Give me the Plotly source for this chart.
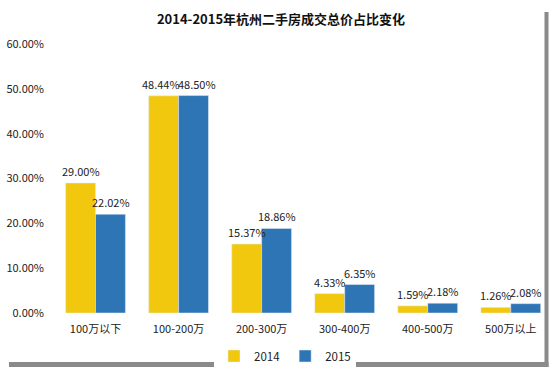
import plotly.graph_objects as go

categories = ["100万以下", "100-200万", "200-300万", "300-400万", "400-500万", "500万以上"]
values_2014 = [29.00, 48.44, 15.37, 4.33, 1.59, 1.26]
values_2015 = [22.02, 48.50, 18.86, 6.35, 2.18, 2.08]
y_ticks = [0, 10, 20, 30, 40, 50, 60]
y_tick_labels = ["0.00%", "10.00%", "20.00%", "30.00%", "40.00%", "50.00%", "60.00%"]

FONT = "Noto Sans CJK SC"

# plot area geometry (pixels)
L, R, T, B = 54, 544, 44, 313
PW, PH = R - L, B - T


def px(x):
    return (x - L) / PW


def py(y):
    return (B - y) / PH


fig = go.Figure()
fig.add_trace(go.Bar(name="2014", x=categories, y=values_2014, marker_color="#F2C80F"))
fig.add_trace(go.Bar(name="2015", x=categories, y=values_2015, marker_color="#2E75B6"))

# value labels above each bar (offset by half a bar width of the group)
annotations = []
for i, cat in enumerate(categories):
    spread = 3 if abs(values_2014[i] - values_2015[i]) < 3 and values_2014[i] > 10 else 0
    for vals, shift in ((values_2014, -15 - spread), (values_2015, 15 + spread)):
        annotations.append(dict(
            x=cat, y=vals[i], xref="x", yref="y", text=f"{vals[i]:.2f}%",
            showarrow=False, xshift=shift, yshift=2, yanchor="bottom", xanchor="center",
            font=dict(size=11, color="#222222", family=FONT),
        ))

fig.update_layout(
    width=550, height=368,
    margin=dict(l=L, r=550 - R, t=T, b=368 - B, autoexpand=False),
    paper_bgcolor="white", plot_bgcolor="white",
    font=dict(family=FONT, size=11, color="#222222"),
    title=dict(text="<b>2014-2015年杭州二手房成交总价占比变化</b>",
               x=281 / 550, xanchor="center", y=1 - 19 / 368, yanchor="middle",
               font=dict(size=13, color="#111111", family=FONT)),
    barmode="group", bargap=0.28, bargroupgap=0,
    showlegend=True,
    legend=dict(orientation="h", x=px(285), xanchor="center", y=py(356), yanchor="middle",
                font=dict(size=11.5, family=FONT), itemwidth=30,
                traceorder="normal"),
    xaxis=dict(range=[-0.5, 5.4], showgrid=False, showline=False, ticks="",
               ticklabelstandoff=8, tickfont=dict(size=11, family=FONT)),
    yaxis=dict(range=[0, 60], tickvals=y_ticks, ticktext=y_tick_labels,
               showgrid=False, showline=False, zeroline=False, ticks="",
               ticklabelstandoff=9, tickfont=dict(size=11, family=FONT)),
    annotations=annotations,
    shapes=[
        dict(type="rect", xref="paper", yref="paper",
             x0=px(544.5), x1=px(548.5), y0=py(367), y1=py(12),
             fillcolor="#8a8a8a", line=dict(width=0), layer="above"),
        dict(type="rect", xref="paper", yref="paper",
             x0=px(9), x1=px(548.5), y0=py(367), y1=py(362),
             fillcolor="#8a8a8a", line=dict(width=0), layer="above"),
    ],
)

fig.write_html("out.html", config={"displayModeBar": False},
               post_script="document.body.style.margin='0';")
